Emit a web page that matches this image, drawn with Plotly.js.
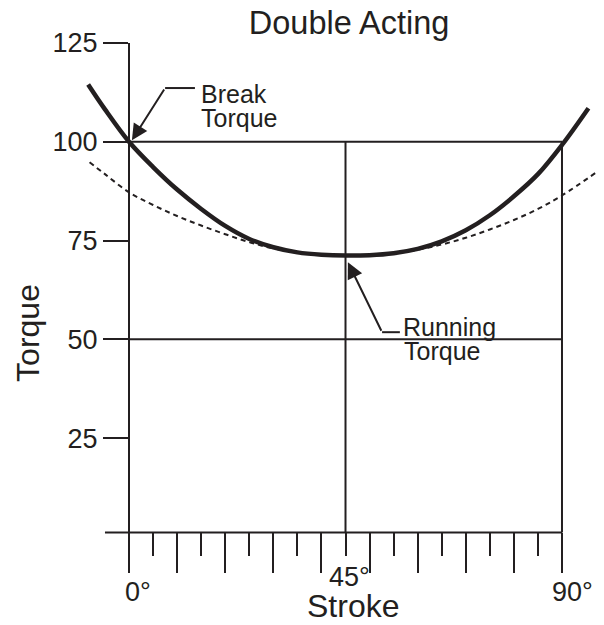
<!DOCTYPE html>
<html><head><meta charset="utf-8">
<script src="https://cdn.plot.ly/plotly-3.0.1.min.js"></script>
<style>html,body{margin:0;padding:0;background:#fff}</style>
</head><body><div id="chart" style="width:604px;height:625px"></div>
<script>
// ---- data ----
const chartTitle = 'Double Acting';
const xTitle = 'Stroke';
const yTitle = 'Torque';
const solidStroke = [-8.5, -5, 0, 5, 10, 15, 20, 25, 30, 35, 40, 45, 50, 55, 60, 65, 70, 75, 80, 85, 90, 95.5];
const solidTorque = [114.5, 108.2, 100, 93.6, 87.9, 83.0, 78.7, 75.4, 73.3, 72.0, 71.4, 71.2, 71.3, 71.8, 72.9, 74.8, 77.6, 81.4, 86.2, 91.8, 99.2, 108.5];
const dashStroke = [-8.2, -5, 0, 5, 10, 15, 20, 25, 30, 35, 40, 45, 50, 55, 60, 65, 70, 75, 80, 85, 90, 97.3];
const dashTorque = [94.8, 91.8, 87.2, 84.0, 81.2, 78.8, 76.6, 74.6, 73.0, 72.0, 71.4, 71.2, 71.3, 71.8, 72.7, 74.0, 75.7, 77.8, 80.2, 83.0, 86.4, 92.4];
const yTickVals = [25, 50, 75, 100, 125];
const yTickText = ['25', '50', '75', '100', '125'];
const xMajorTicks = [0, 10, 20, 30, 40, 50, 60, 70, 80, 90];
const xMinorTicks = [5, 15, 25, 35, 45, 55, 65, 75, 85];
const xLabelVals = [0, 45, 90];
const xLabelText = ['0°', '45°', '90°'];
const gridY = [50, 100];
const gridX = [45, 90];
const breakLabel = ['Break', 'Torque'];
const runningLabel = ['Running', 'Torque'];

// ---- styling / geometry ----
const INK = '#231f20';
const FONT = 'Liberation Sans, Arial, Helvetica, sans-serif';
const xRange = [-10.19, 97.9];
const yRange = [-8.9, 125];
const yBase = 1.1;
const xLabelShift = [8.5, 4, 10.5];
const xLabelY = [-0.0378, -0.0095, -0.0378];

const traces = [
  {x: dashStroke, y: dashTorque, type: 'scatter', mode: 'lines', line: {color: INK, width: 2, dash: '5px,4px', shape: 'spline', smoothing: 1}, hoverinfo: 'skip'},
  {x: solidStroke, y: solidTorque, type: 'scatter', mode: 'lines', line: {color: INK, width: 4.5, shape: 'spline', smoothing: 1}, hoverinfo: 'skip'}
];

const shapes = [];
gridY.forEach(v => shapes.push({type: 'line', xref: 'x', yref: 'y', x0: 0, x1: 90, y0: v, y1: v, line: {color: INK, width: 2}, layer: 'below'}));
gridX.forEach(v => shapes.push({type: 'line', xref: 'x', yref: 'y', x0: v, x1: v, y0: yBase, y1: 100, line: {color: INK, width: 2}, layer: 'below'}));
shapes.push({type: 'line', xref: 'x', yref: 'y', x0: -5, x1: 90, y0: yBase, y1: yBase, line: {color: INK, width: 2}, layer: 'below'});
// leader segments
shapes.push({type: 'line', xref: 'x', yref: 'y', x0: 7.5, x1: 13.7, y0: 113.6, y1: 113.6, line: {color: INK, width: 2}});
shapes.push({type: 'line', xref: 'x', yref: 'y', x0: 52.6, x1: 56.3, y0: 51.8, y1: 51.8, line: {color: INK, width: 2}});

const annotations = [];
const txt = (t, x, y, size, extra) => Object.assign({text: t, x: x, y: y, showarrow: false, font: {family: FONT, size: size, color: INK}}, extra || {});
xLabelVals.forEach((v, i) => annotations.push(txt(xLabelText[i], v, xLabelY[i], 27, {xref: 'x', yref: 'paper', xanchor: 'center', yanchor: 'middle', xshift: xLabelShift[i]})));
annotations.push(txt(xTitle, 0.525, -0.0643, 32, {xref: 'paper', yref: 'paper', xanchor: 'center', yanchor: 'middle'}));
annotations.push(txt(yTitle, -0.1, 0.452, 32, {xref: 'paper', yref: 'paper', xanchor: 'center', yanchor: 'middle', textangle: -90}));
annotations.push(txt(breakLabel[0], 14.6, 112.2, 25, {xref: 'x', yref: 'y', xanchor: 'left', yanchor: 'middle'}));
annotations.push(txt(breakLabel[1], 14.6, 105.9, 25, {xref: 'x', yref: 'y', xanchor: 'left', yanchor: 'middle'}));
annotations.push(txt(runningLabel[0], 56.6, 53.2, 25, {xref: 'x', yref: 'y', xanchor: 'left', yanchor: 'middle'}));
annotations.push(txt(runningLabel[1], 56.8, 47.0, 25, {xref: 'x', yref: 'y', xanchor: 'left', yanchor: 'middle'}));
// arrows
annotations.push({text: '', x: 0.6, y: 100.4, xref: 'x', yref: 'y', axref: 'x', ayref: 'y', ax: 7.5, ay: 113.6, showarrow: true, arrowhead: 2, arrowsize: 1.6, arrowwidth: 2, arrowcolor: INK, standoff: 0, startstandoff: 0});
annotations.push({text: '', x: 45.5, y: 69.5, xref: 'x', yref: 'y', axref: 'x', ayref: 'y', ax: 52.6, ay: 51.8, showarrow: true, arrowhead: 2, arrowsize: 1.6, arrowwidth: 2, arrowcolor: INK, standoff: 0, startstandoff: 0});

const layout = {
  width: 604, height: 625,
  margin: {l: 80, r: 4, t: 43, b: 53, pad: 0},
  paper_bgcolor: '#ffffff', plot_bgcolor: '#ffffff',
  showlegend: false,
  font: {family: FONT, color: INK},
  title: {text: chartTitle, x: 0.578, xref: 'container', y: 0.964, yref: 'container', xanchor: 'center', yanchor: 'middle', font: {family: FONT, size: 32.5, color: INK}},
  xaxis: {
    range: xRange, anchor: 'free', position: (yBase - yRange[0]) / (yRange[1] - yRange[0]),
    showgrid: false, zeroline: false, showline: false,
    tickmode: 'array', tickvals: xMajorTicks, showticklabels: false,
    ticks: 'outside', ticklen: 40, tickwidth: 2, tickcolor: INK,
    minor: {tickmode: 'array', tickvals: xMinorTicks, ticks: 'outside', ticklen: 23, tickwidth: 2, tickcolor: INK, showgrid: false},
    fixedrange: true
  },
  yaxis: {
    range: yRange, anchor: 'free', position: (0 - xRange[0]) / (xRange[1] - xRange[0]),
    showgrid: false, zeroline: false, showline: true, linecolor: INK, linewidth: 2,
    tickmode: 'array', tickvals: yTickVals, ticktext: yTickText,
    ticks: 'outside', ticklen: 25, tickwidth: 2, tickcolor: INK,
    tickfont: {family: FONT, size: 27, color: INK},
    fixedrange: true
  },
  shapes: shapes,
  annotations: annotations
};

Plotly.newPlot('chart', traces, layout, {displayModeBar: false, staticPlot: true});
</script>
</body></html>
